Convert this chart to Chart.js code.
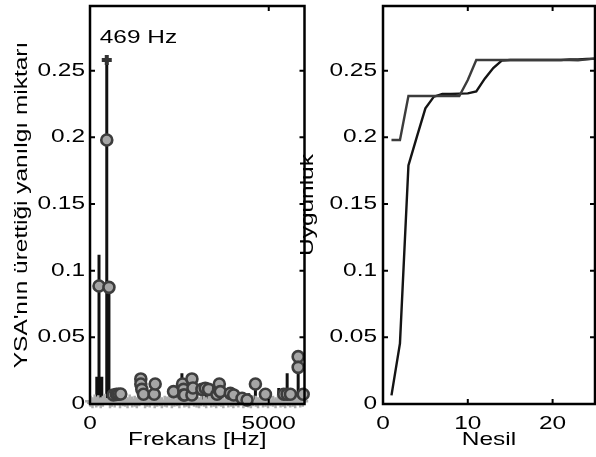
<!DOCTYPE html>
<html>
<head>
<meta charset="utf-8">
<script src="https://cdn.jsdelivr.net/npm/chart.js@4"></script>
<style>
  body { margin: 0; background: #fff; }
  #wrap { position: relative; width: 596px; height: 457px; overflow: hidden; }
  canvas { position: absolute; top: 0; }
  #left { left: 0; }
  #right { left: 290px; }
</style>
</head>
<body>
<div id="wrap">
  <canvas id="left" width="320" height="457"></canvas>
  <canvas id="right" width="306" height="457"></canvas>
</div>
<script>
// --- Datos: panel izquierdo (espectro) ---
const circleHz = [252, 530, 469, 654, 740, 800, 860, 1421, 1421, 1449, 1496, 1795, 1823, 2337, 2589, 2617, 2617, 2645,
  2851, 2851, 2880, 3131, 3225, 3318, 3552, 3598, 3617, 3645, 3926, 4019, 4253, 4393, 4627, 4907, 5421, 5515, 5608,
  5823, 5823, 5963];
const circleVal = [0.0885, 0.0875, 0.198, 0.0068, 0.0072, 0.0073, 0.0075, 0.0188, 0.015, 0.011, 0.0073, 0.0073, 0.015,
  0.0093, 0.015, 0.011, 0.0068, 0.0068, 0.0188, 0.0068, 0.012, 0.011, 0.0118, 0.011, 0.0073, 0.011, 0.015, 0.0093,
  0.008, 0.0068, 0.0043, 0.003, 0.015, 0.0073, 0.0073, 0.0073, 0.0073, 0.0355, 0.0275, 0.0073];

const stemHz = [190, 252, 330, 469, 900, 1150, 2571, 3400, 3700, 4440, 5280, 5515];
const stemVal = [0.0205, 0.112, 0.0205, 0.258, 0.004, 0.003, 0.023, 0.005, 0.004, 0.008, 0.012, 0.023];

const crossHz = [15, 70, 130, 175, 230, 300, 360, 415, 560, 610, 690, 770, 840, 915, 980, 1050, 1110, 1180, 1250, 1310,
  1380, 1470, 1540, 1600, 1670, 1740, 1810, 1880, 1950, 2010, 2090, 2150, 2220, 2290, 2360, 2430, 2500, 2560, 2640,
  2700, 2770, 2840, 2910, 2980, 3050, 3110, 3190, 3250, 3330, 3390, 3460, 3530, 3600, 3670, 3730, 3800, 3870, 3950,
  4010, 4080, 4150, 4220, 4290, 4360, 4430, 4500, 4560, 4640, 4700, 4770, 4840, 4910, 4980, 5050, 5120, 5190, 5260,
  5330, 5400, 5460, 5540, 5600, 5670, 5740, 5810, 5880, 5950];
const crossVal = [0.002, 0.001, 0.003, 0.0015, 0.0025, 0.001, 0.002, 0.0035, 0.001, 0.002,
  0.0015, 0.003, 0.001, 0.0025, 0.002, 0.001, 0.003, 0.0015, 0.002, 0.001,
  0.0025, 0.0035, 0.001, 0.002, 0.0015, 0.003, 0.001, 0.002, 0.0025, 0.001,
  0.002, 0.0015, 0.003, 0.001, 0.002, 0.0025, 0.001, 0.0035, 0.0015, 0.002,
  0.001, 0.003, 0.002, 0.0015, 0.001, 0.0025, 0.002, 0.001, 0.003, 0.0015,
  0.002, 0.001, 0.0025, 0.002, 0.001, 0.003, 0.0015, 0.002, 0.001, 0.0025,
  0.0015, 0.003, 0.001, 0.002, 0.0015, 0.001, 0.0025, 0.002, 0.001, 0.003,
  0.0015, 0.002, 0.001, 0.0025, 0.002, 0.001, 0.003, 0.0015, 0.002, 0.001,
  0.0025, 0.0015, 0.002, 0.001, 0.003, 0.0015, 0.002];

const peakHz = [469];
const peakVal = [0.258];
const peakLabel = '469 Hz';

const leftXTicks = [0, 5000];
const yTicks = [0, 0.05, 0.1, 0.15, 0.2, 0.25];
const yTickLabels = ['0', '0.05', '0.1', '0.15', '0.2', '0.25'];

// --- Datos: panel derecho (uygunluk) ---
const nesil = [1, 2, 3, 4, 5, 6, 7, 8, 9, 10, 11, 12, 13, 14, 15, 16, 17, 18, 19, 20, 21, 22, 23, 24, 25];
const lineA = [0.198, 0.198, 0.231, 0.231, 0.231, 0.231, 0.231, 0.231, 0.231, 0.243, 0.258, 0.258, 0.258, 0.258,
  0.258, 0.258, 0.258, 0.258, 0.258, 0.258, 0.258, 0.258, 0.2578, 0.2585, 0.259];
const lineB = [0.0065, 0.0455, 0.179, 0.2005, 0.2217, 0.2305, 0.2325, 0.2325, 0.2328, 0.233, 0.2345, 0.244, 0.252,
  0.2575, 0.258, 0.258, 0.258, 0.258, 0.258, 0.258, 0.258, 0.2585, 0.2585, 0.2588, 0.259];
const rightXTicks = [0, 10, 20];

const FONT = { family: '"Liberation Sans", Arial, sans-serif', size: 18.5 };
const TEXT_STRETCH = 1.32; // el texto original es más ancho que Helvetica normal

// estira el texto en horizontal (en su propia dirección)
const wideText = {
  id: 'wideText',
  beforeInit(chart) {
    const ctx = chart.ctx;
    const orig = ctx.fillText.bind(ctx);
    ctx.fillText = function (text, x, y, maxWidth) {
      ctx.save();
      ctx.translate(x, y);
      ctx.scale(TEXT_STRETCH, 1);
      if (maxWidth === undefined) orig(text, 0, 0);
      else orig(text, 0, 0, maxWidth / TEXT_STRETCH);
      ctx.restore();
    };
  }
};

// marco y marcas de eje hacia dentro, como en MATLAB
const frameTicks = {
  id: 'frameTicks',
  afterDatasetsDraw(chart) {
    const { ctx, chartArea: a, scales } = chart;
    ctx.save();
    ctx.strokeStyle = '#000';
    ctx.lineWidth = 2;
    ctx.beginPath();
    scales.x.ticks.forEach(t => {
      const px = scales.x.getPixelForValue(t.value);
      ctx.moveTo(px, a.bottom); ctx.lineTo(px, a.bottom - 5);
      ctx.moveTo(px, a.top); ctx.lineTo(px, a.top + 5);
    });
    scales.y.ticks.forEach(t => {
      const py = scales.y.getPixelForValue(t.value);
      ctx.moveTo(a.left, py); ctx.lineTo(a.left + 5, py);
      ctx.moveTo(a.right, py); ctx.lineTo(a.right - 5, py);
    });
    ctx.stroke();
    ctx.lineWidth = 2.5;
    ctx.strokeRect(a.left, a.top, a.right - a.left, a.bottom - a.top);
    ctx.restore();
  }
};

const peakText = {
  id: 'peakText',
  afterDatasetsDraw(chart) {
    const { ctx, scales } = chart;
    const px = scales.x.getPixelForValue(peakHz[0]);
    const py = scales.y.getPixelForValue(peakVal[0]);
    ctx.save();
    ctx.font = `${FONT.size}px ${FONT.family}`;
    ctx.fillStyle = '#000';
    ctx.textAlign = 'left';
    ctx.textBaseline = 'alphabetic';
    ctx.fillText(peakLabel, px - 7, py - 17);
    ctx.restore();
  }
};

function yScale(width, titleText, titlePad, tickPad) {
  return {
    min: 0, max: 0.2985,
    afterFit: s => { s.width = width; s.paddingTop = 0; s.paddingBottom = 0; },
    afterBuildTicks: s => { s.ticks = yTicks.map(v => ({ value: v })); },
    grid: { display: false, drawTicks: false },
    border: { display: false },
    ticks: {
      color: '#000', font: FONT, padding: tickPad,
      callback: v => yTickLabels[yTicks.indexOf(v)]
    },
    title: { display: true, text: titleText, color: '#000', font: FONT, padding: { top: titlePad, bottom: 0 } }
  };
}

function xScale(max, tickList, titleText) {
  return {
    type: 'linear', min: 0, max: max,
    afterFit: s => { s.height = 53; s.paddingLeft = 0; s.paddingRight = 0; },
    afterBuildTicks: s => { s.ticks = tickList.map(v => ({ value: v })); },
    grid: { display: false, drawTicks: false },
    border: { display: false },
    ticks: { color: '#000', font: FONT, padding: 8.5, maxRotation: 0, callback: v => String(v) },
    title: { display: true, text: titleText, color: '#000', font: FONT, padding: { top: 0, bottom: 6.3 } }
  };
}

// tallos: (x,0)-(x,v) separados por huecos
const stemData = [];
function addStem(h, v) {
  stemData.push({ x: h, y: 0 }, { x: h, y: v }, { x: h, y: null });
}
stemHz.forEach((h, i) => addStem(h, stemVal[i]));
circleHz.forEach((h, i) => addStem(h, circleVal[i]));

new Chart(document.getElementById('left'), {
  type: 'scatter',
  data: {
    datasets: [{
      type: 'line',
      data: stemData,
      borderColor: '#111',
      borderWidth: 3,
      pointRadius: 0,
      spanGaps: false,
      order: 4
    }, {
      data: crossHz.map((h, i) => ({ x: h, y: crossVal[i] })),
      pointStyle: 'cross',
      pointRadius: 5.5,
      borderWidth: 2.5,
      borderColor: '#adadad',
      clip: false,
      order: 3
    }, {
      data: circleHz.map((h, i) => ({ x: h, y: circleVal[i] })),
      pointStyle: 'circle',
      pointRadius: 5.5,
      borderWidth: 2.6,
      backgroundColor: '#a6a6a6',
      borderColor: '#3d3d3d',
      clip: false,
      order: 2
    }, {
      data: peakHz.map((h, i) => ({ x: h, y: peakVal[i] })),
      pointStyle: 'cross',
      pointRadius: 5,
      borderWidth: 4,
      borderColor: '#333',
      clip: false,
      order: 1
    }]
  },
  options: {
    responsive: false,
    animation: false,
    layout: { autoPadding: false, padding: { left: 0, top: 6, right: 15.5, bottom: 0 } },
    plugins: { legend: { display: false }, tooltip: { enabled: false } },
    scales: {
      x: xScale(6000, leftXTicks, 'Frekans [Hz]'),
      y: yScale(90, "YSA'nın ürettiği yanılgı miktarı", 11, 5)
    }
  },
  plugins: [wideText, frameTicks, peakText]
});

new Chart(document.getElementById('right'), {
  type: 'scatter',
  data: {
    datasets: [{
      data: nesil.map((g, i) => ({ x: g, y: lineA[i] })),
      showLine: true,
      borderColor: '#3c3c3c',
      borderWidth: 2.4,
      pointRadius: 0
    }, {
      data: nesil.map((g, i) => ({ x: g, y: lineB[i] })),
      showLine: true,
      borderColor: '#141414',
      borderWidth: 2.4,
      pointRadius: 0
    }]
  },
  options: {
    responsive: false,
    animation: false,
    layout: { autoPadding: false, padding: { left: 0, top: 6, right: 1, bottom: 0 } },
    plugins: { legend: { display: false }, tooltip: { enabled: false } },
    scales: {
      x: xScale(25, rightXTicks, 'Nesil'),
      y: yScale(93, 'Uygunluk', 7, 6)
    }
  },
  plugins: [wideText, frameTicks]
});
</script>
</body>
</html>
